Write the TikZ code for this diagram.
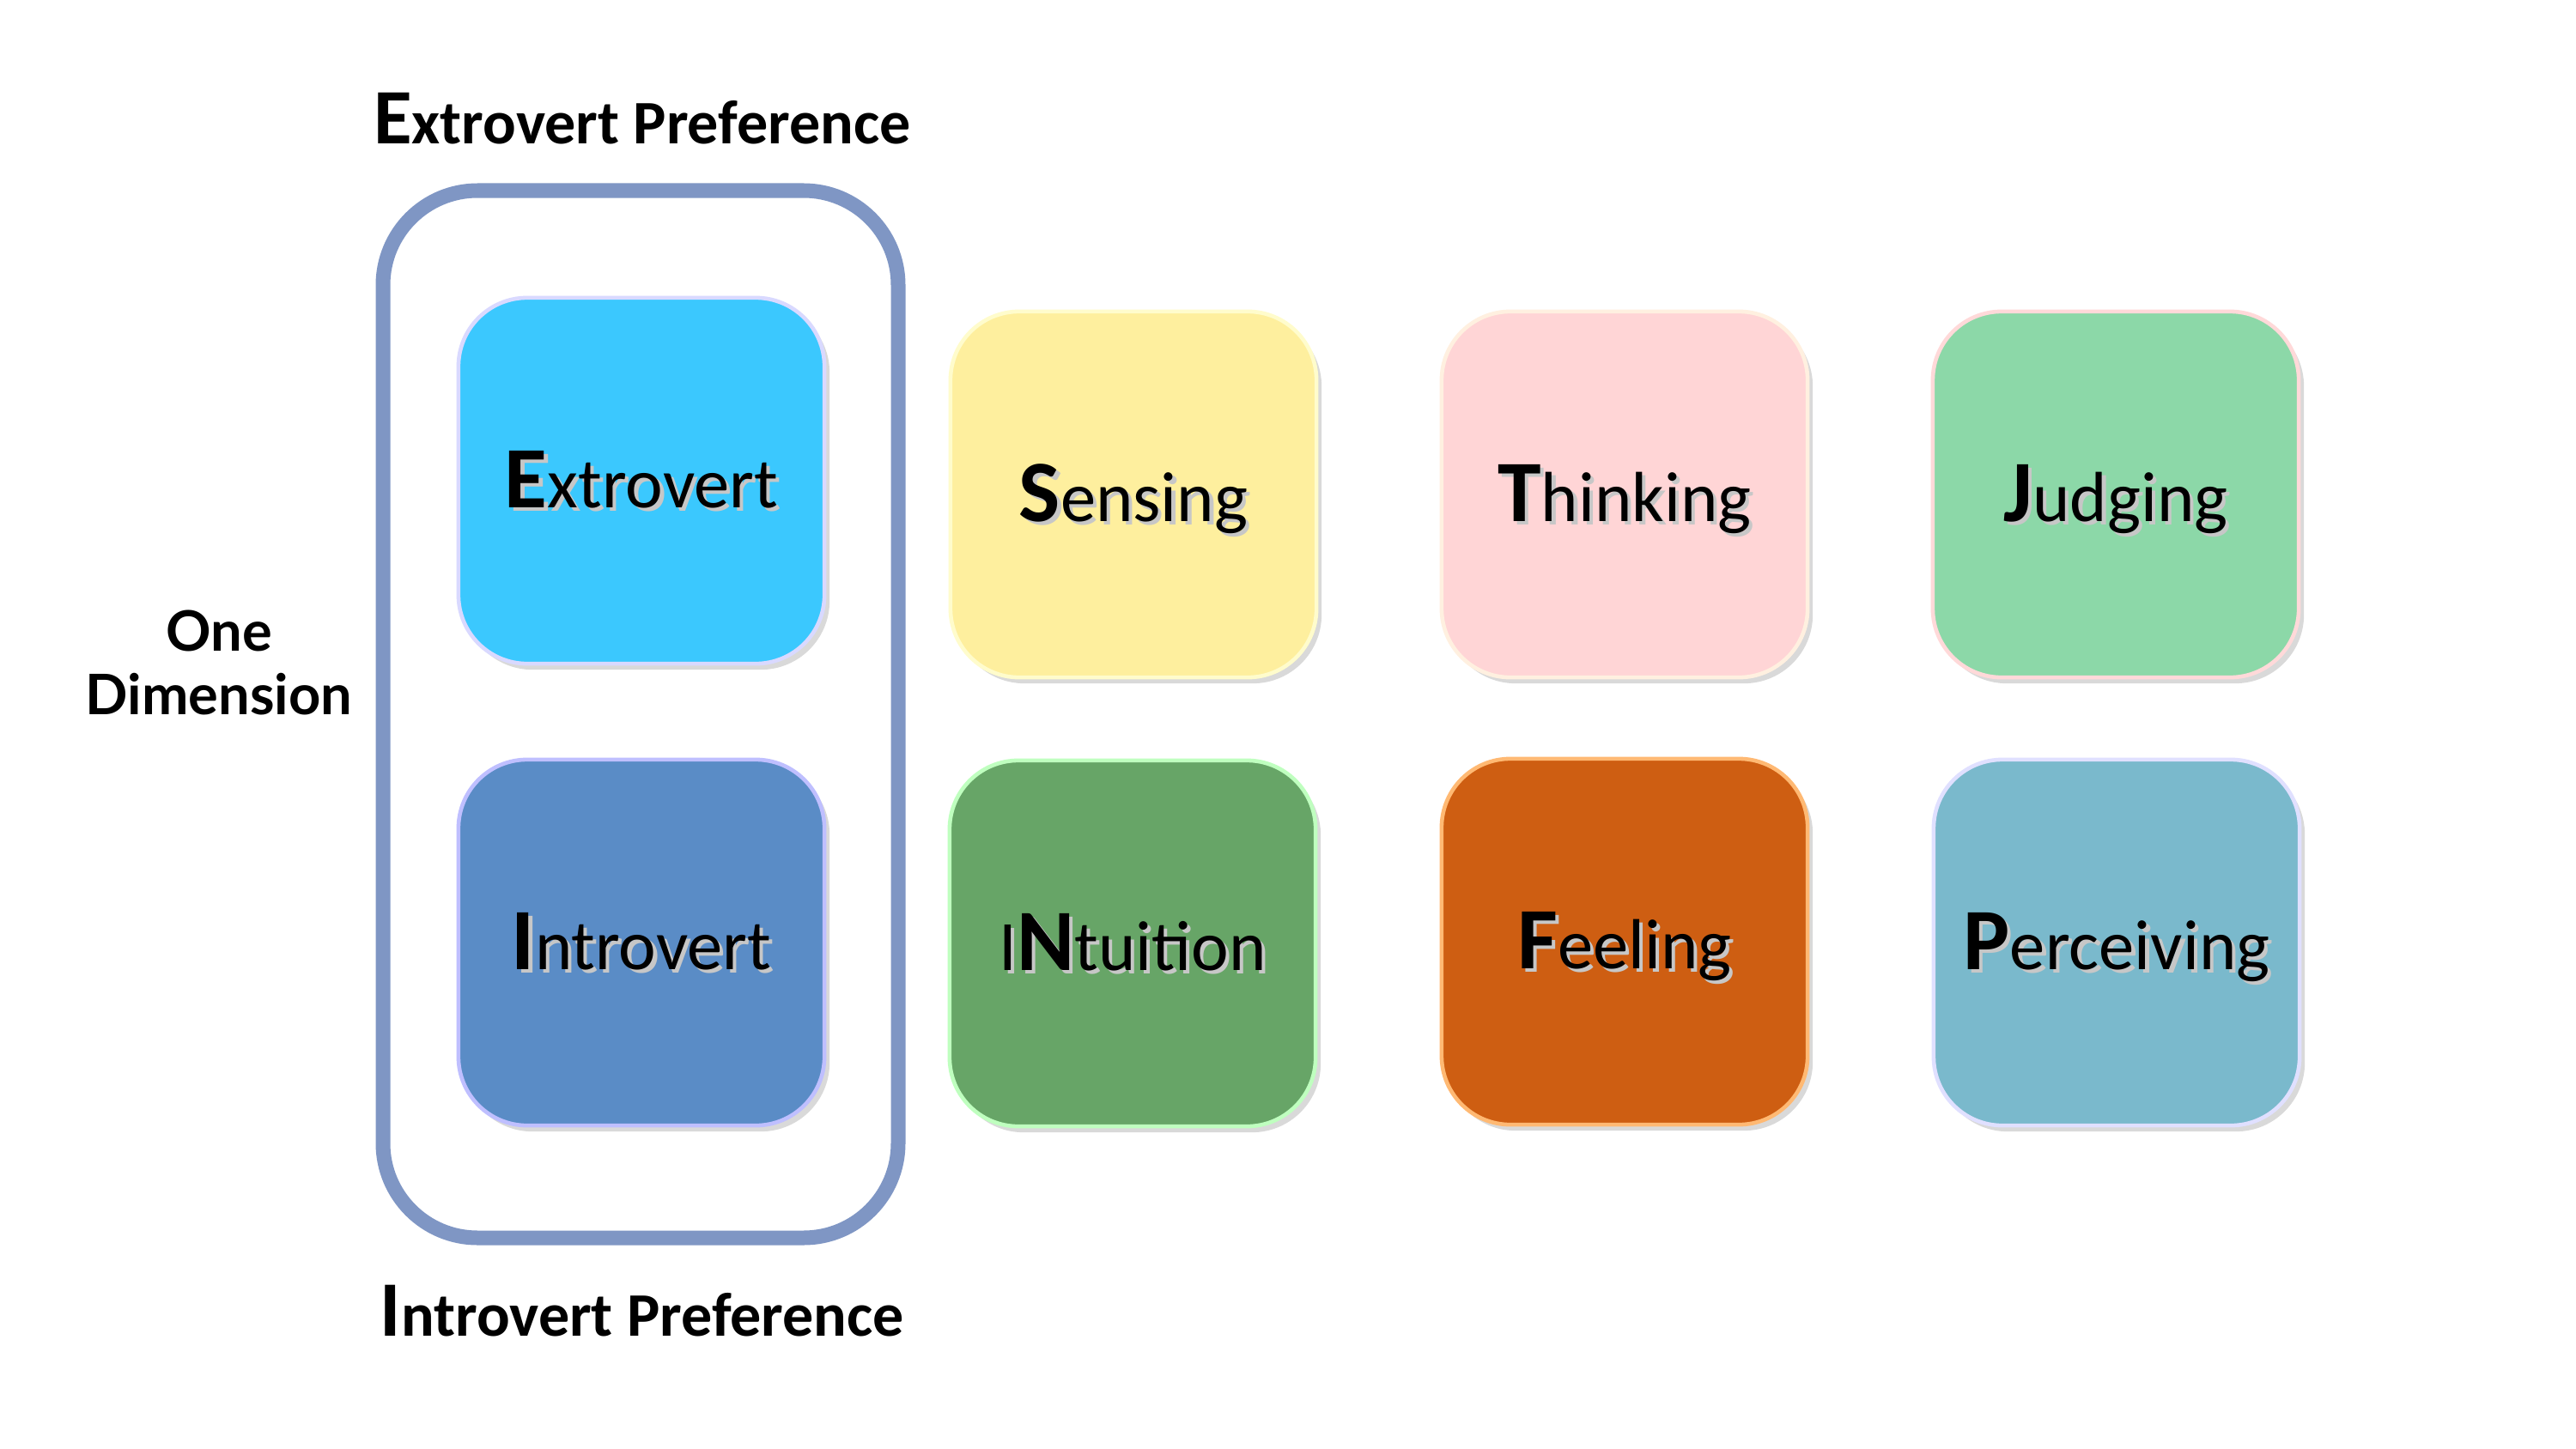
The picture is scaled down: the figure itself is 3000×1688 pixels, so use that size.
\documentclass[tikz,border=0pt]{standalone}
\usepackage{fontspec}
\setmainfont{Carlito}
\newfontfamily\dimfont{Lato}
\usetikzlibrary{shadows}

\definecolor{eblue}{HTML}{3BC8FE}
\definecolor{syellow}{HTML}{FEEF9E}
\definecolor{tpink}{HTML}{FFD5D6}
\definecolor{jgreen}{HTML}{8CD8A8}
\definecolor{iblue}{HTML}{5A8CC6}
\definecolor{ngreen}{HTML}{67A567}
\definecolor{forange}{HTML}{CE5E12}
\definecolor{pteal}{HTML}{7AB9CC}
\definecolor{frameblue}{HTML}{7F96C4}

% big bold initial, then the rest of the word
\newcommand\initial[2]{{\fontsize{29}{29}\selectfont\bfseries #1}#2}
% soft grey copy under the word
\newcommand\shadowed[1]{\leavevmode\rlap{\kern1.2pt\raisebox{-1.2pt}{\color{black!22}#1}}#1}

\tikzset{
  trait/.style 2 args={fill=#1, draw=#2, line width=1.3pt, rounded corners=0.8cm,
    minimum width=4.26cm, minimum height=4.26cm, inner sep=0pt,
    text height=0.62cm, text depth=0pt, font=\fontsize{23.5}{23.5}\selectfont,
    drop shadow={fill=black, opacity=0.15, shadow xshift=0.06cm, shadow yshift=-0.07cm}},
  pref/.style={anchor=base, font=\fontsize{20.5}{20.5}\selectfont\bfseries},
}

\begin{document}
\begin{tikzpicture}[x=0.01cm, y=-0.01cm]
    \useasboundingbox[fill=white] (0,0) rectangle (3000,1688);
    % the pair frame
    \draw[frameblue, line width=0.17cm, rounded corners=1.1cm] (446,222) rectangle (1046,1442);
    \node[pref] (toplab) at (748,168) {{\fontsize{26}{26}\selectfont E}xtrovert Preference};
    \node[pref] (botlab) at (748,1556) {{\fontsize{26}{26}\selectfont I}ntrovert Preference};
    \node[align=center, font=\dimfont\bfseries\fontsize{18.5}{21}\selectfont] (dim) at (255,772) {One\\Dimension};
    % top row
    \node[trait={eblue}{blue!15!white}] (ext) at (747,560) {\shadowed{\initial{E}{xtrovert}}};
    \node[trait={syellow}{yellow!20!white}] (sen) at (1320,576) {\shadowed{\initial{S}{ensing}}};
    \node[trait={tpink}{orange!12!white}] (thi) at (1892,576) {\shadowed{\initial{T}{hinking}}};
    \node[trait={jgreen}{red!15!white}] (jud) at (2464,576) {\shadowed{\initial{J}{udging}}};
    % bottom row
    \node[trait={iblue}{blue!25!white}] (int) at (747,1098) {\shadowed{\initial{I}{ntrovert}}};
    \node[trait={ngreen}{green!25!white}] (intu) at (1319,1099) {\shadowed{I\initial{N}{tuition}}};
    \node[trait={forange}{orange!55!white}] (fee) at (1892,1097) {\shadowed{\initial{F}{eeling}}};
    \node[trait={pteal}{blue!12!white}] (per) at (2465,1098) {\shadowed{\initial{P}{erceiving}}};
\end{tikzpicture}
\end{document}
